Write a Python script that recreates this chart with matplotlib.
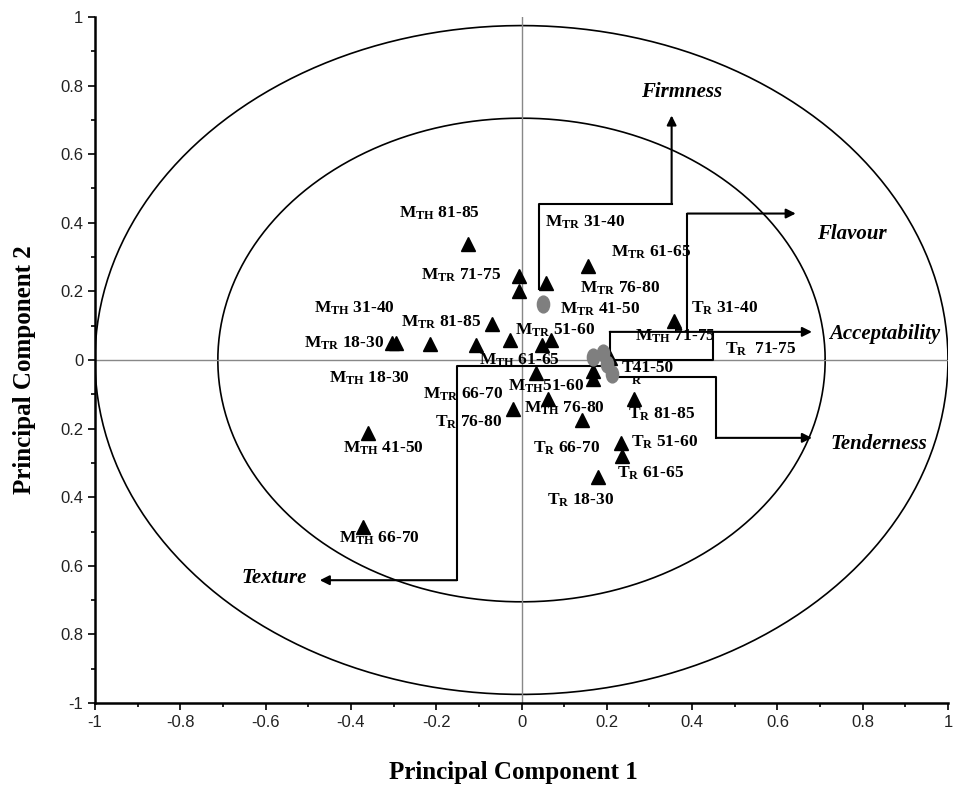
import numpy as np
import matplotlib
matplotlib.use("Agg")
import matplotlib.pyplot as plt
from matplotlib.markers import MarkerStyle
from matplotlib.transforms import Affine2D

plt.rcParams['mathtext.fontset'] = 'custom'
plt.rcParams['mathtext.rm'] = 'Liberation Serif:bold'
plt.rcParams['mathtext.bf'] = 'Liberation Serif:bold'
plt.rcParams['mathtext.it'] = 'Liberation Serif:bold:italic'

# sample scores (triangles)
pc1 = [-0.126, -0.007, -0.005, 0.058, 0.156, 0.357, -0.068, -0.303, -0.294, -0.214,
       -0.107, -0.026, 0.049, 0.068, 0.033, 0.168, 0.168, 0.207, -0.019, 0.063,
       0.142, 0.263, 0.233, 0.235, 0.179, -0.359, -0.371]
pc2 = [0.339, 0.246, 0.202, 0.225, 0.275, 0.114, 0.105, 0.050, 0.050, 0.047,
       0.044, 0.058, 0.044, 0.058, -0.038, -0.032, -0.055, 0.006, -0.142, -0.113,
       -0.174, -0.113, -0.241, -0.279, -0.340, -0.212, -0.488]

# grey markers
grey_x = [0.051, 0.168, 0.191, 0.200, 0.212]
grey_y = [0.164, 0.009, 0.020, -0.012, -0.041]

# sample labels
sample_labels = [
    r'M$_{\rm TH}$ 81-85', r'M$_{\rm TR}$ 71-75', r'M$_{\rm TH}$ 31-40', r'M$_{\rm TR}$ 81-85',
    r'M$_{\rm TR}$ 18-30', r'M$_{\rm TR}$ 51-60', r'M$_{\rm TH}$ 61-65', r'M$_{\rm TH}$ 18-30',
    r'M$_{\rm TR}$ 31-40', r'M$_{\rm TR}$ 61-65', r'M$_{\rm TR}$ 76-80', r'M$_{\rm TR}$ 41-50',
    r'T$_{\rm R}$ 31-40', r'M$_{\rm TH}$ 71-75', r'T$_{\rm R}$  71-75', 'T41-50',
    r'M$_{\rm TR}$ 66-70', r'M$_{\rm TH}$51-60', r'M$_{\rm TH}$ 76-80', r'T$_{\rm R}$ 76-80',
    r'M$_{\rm TH}$ 41-50', r'T$_{\rm R}$ 81-85', r'T$_{\rm R}$ 66-70', r'T$_{\rm R}$ 51-60',
    r'T$_{\rm R}$ 61-65', r'T$_{\rm R}$ 18-30', r'M$_{\rm TH}$ 66-70']
label_x = [-0.193, -0.142, -0.392, -0.189, -0.415, 0.079, -0.005, -0.357,
           0.149, 0.303, 0.231, 0.184, 0.476, 0.361, 0.562, 0.296,
           -0.138, 0.058, 0.100, -0.124, -0.324, 0.329, 0.105, 0.336,
           0.303, 0.138, -0.333]
label_y = [0.427, 0.246, 0.152, 0.111, 0.050, 0.088, 0.000, -0.052,
           0.401, 0.313, 0.208, 0.149, 0.152, 0.070, 0.032, -0.024,
           -0.099, -0.076, -0.140, -0.183, -0.256, -0.157, -0.256, -0.241,
           -0.331, -0.410, -0.520]

# attribute vectors (stepped arrows)
attributes = ['Firmness', 'Flavour', 'Acceptability', 'Tenderness', 'Texture']
attr_x = [0.375, 0.774, 0.851, 0.839, -0.580]
attr_y = [0.781, 0.368, 0.076, -0.244, -0.637]
path_x = [[0.042, 0.042, 0.352, 0.352],
          [0.389, 0.389, 0.643],
          [0.207, 0.207, 0.681],
          [0.224, 0.457, 0.457, 0.681],
          [0.184, -0.152, -0.152, -0.473]]
path_y = [[0.208, 0.456, 0.456, 0.713],
          [0.082, 0.427, 0.427],
          [-0.003, 0.082, 0.082],
          [-0.049, -0.049, -0.227, -0.227],
          [-0.017, -0.017, -0.642, -0.642]]
box_x = [0.448, 0.448, 0.207]
box_y = [0.082, 0.0, 0.0]

ticks = [-1, -0.8, -0.6, -0.4, -0.2, 0, 0.2, 0.4, 0.6, 0.8, 1]
xtick_labels = ['-1', '-0.8', '-0.6', '-0.4', '-0.2', '0', '0.2', '0.4', '0.6', '0.8', '1']
ytick_labels = ['-1', '0.8', '0.6', '0.4', '0.2', '0', '0.2', '0.4', '0.6', '0.8', '1']

fig = plt.figure(figsize=(9.55, 7.9), dpi=100)
ax = fig.add_axes([95 / 955, 1 - 703 / 790, 853 / 955, 686 / 790])
ax.set_xlim(-1, 1)
ax.set_ylim(-1, 1)

# correlation circles
t = np.linspace(0, 2 * np.pi, 400)
ax.plot(1.0 * np.cos(t), 0.975 * np.sin(t), color='black', lw=1.2)
ax.plot(0.712 * np.cos(t), 0.705 * np.sin(t), color='black', lw=1.2)

ax.axhline(0, color='#888888', lw=1)
ax.axvline(0, color='#888888', lw=1)

for xs, ys in zip(path_x, path_y):
    ax.plot(xs[:-1], ys[:-1], color='black', lw=1.5)
    ax.annotate('', xy=(xs[-1], ys[-1]), xytext=(xs[-2], ys[-2]),
                arrowprops=dict(arrowstyle='-|>', color='black', lw=1.5,
                                mutation_scale=14, shrinkA=0, shrinkB=0))
ax.plot(box_x, box_y, color='black', lw=1.5)

ax.plot(pc1, pc2, linestyle='none', marker='^', color='black', markersize=10)
oval = MarkerStyle('o', transform=Affine2D().scale(0.8, 1.1))
ax.plot(grey_x, grey_y, linestyle='none', marker=oval, color='#7f7f7f', markersize=11)

for s, x, y in zip(sample_labels, label_x, label_y):
    ax.text(x, y, s, ha='center', va='center', fontsize=12.5,
            family='Liberation Serif', fontweight='bold')
ax.text(0.268, -0.062, 'R', ha='center', va='center', fontsize=9,
        family='Liberation Serif', fontweight='bold')

for s, x, y in zip(attributes, attr_x, attr_y):
    ax.text(x, y, s, ha='center', va='center', fontsize=15,
            family='Liberation Serif', fontweight='bold', style='italic')

ax.set_xticks(ticks)
ax.set_xticklabels(xtick_labels)
ax.set_yticks(ticks)
ax.set_yticklabels(ytick_labels)
ax.set_xticks(np.arange(-0.9, 1.0, 0.2), minor=True)
ax.set_yticks(np.arange(-0.9, 1.0, 0.2), minor=True)
ax.tick_params(which='major', length=5, width=1.2, labelsize=12, direction='out')
ax.tick_params(which='minor', length=3, width=1.2, direction='out')
for lab in ax.get_xticklabels() + ax.get_yticklabels():
    lab.set_family('Liberation Sans')
    lab.set_color('#222222')

for side in ['top', 'right']:
    ax.spines[side].set_visible(False)
for side in ['left', 'bottom']:
    ax.spines[side].set_linewidth(1.8)

fig.text(513 / 955, 1 - 772 / 790, 'Principal Component 1', ha='center', va='center',
         fontsize=18, family='Liberation Serif', fontweight='bold')
fig.text(25 / 955, 1 - 370 / 790, 'Principal Component 2', ha='center', va='center',
         rotation=90, fontsize=18, family='Liberation Serif', fontweight='bold')

fig.savefig('out.png', dpi=100)
